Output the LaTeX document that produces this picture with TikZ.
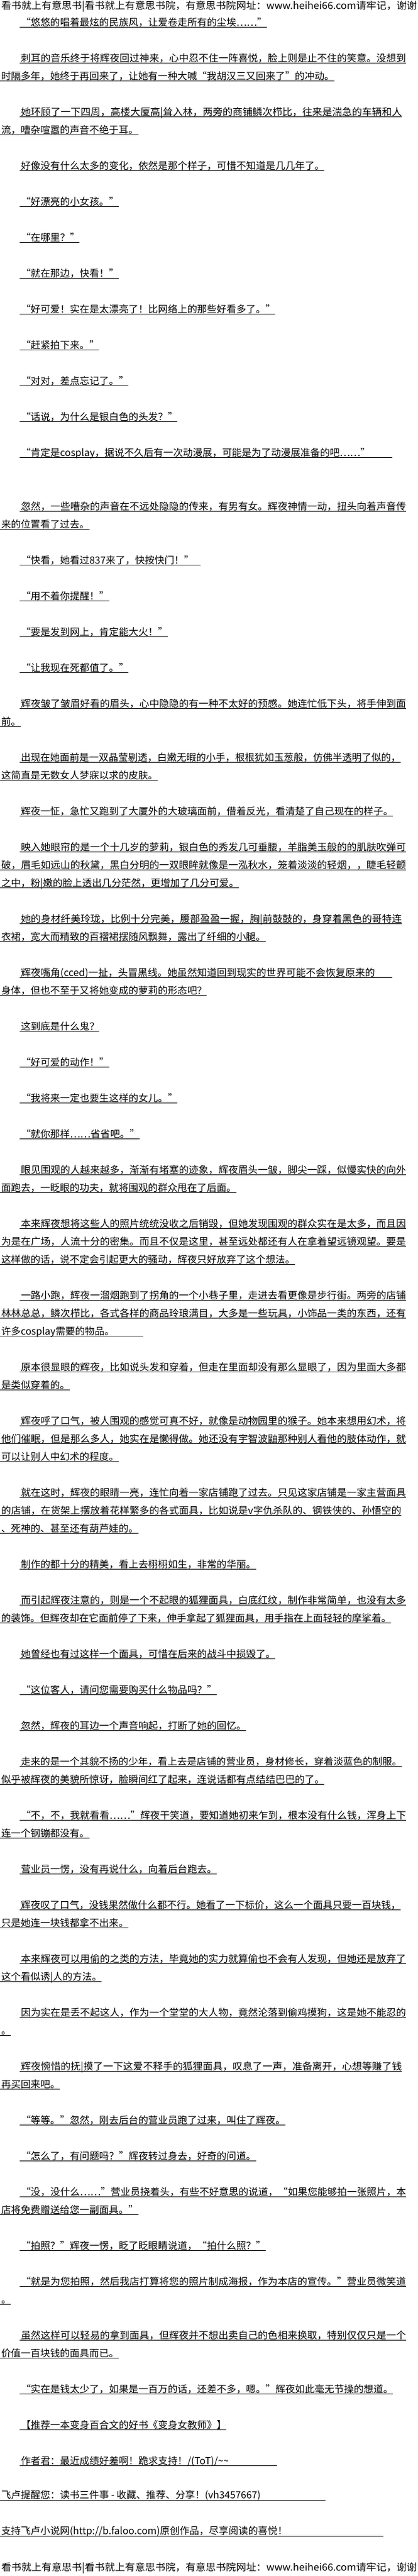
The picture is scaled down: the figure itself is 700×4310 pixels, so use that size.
\documentclass[tikz,border=0pt]{standalone}
\usepackage{fontspec}
\usepackage{graphicx}
\usetikzlibrary{calc}
\newfontfamily\cjk{Noto Sans CJK SC}
\tikzset{
  txt/.style={anchor=base west, inner sep=0pt, outer sep=0pt, text=black,
              font=\cjk\fontsize{16.4}{20}\selectfont},
  ul/.style={draw=black, line width=1pt}
}
% #1 optional underline end (absolute x), #2 name, #3 x, #4 line index, #5 text
\newcommand\TLine[5][]{%
  \node[txt] (#2) at (#3,{13+30*#4}) {#5};
  \ifx\relax#1\relax
    \draw[ul] ($(#2.base west)+(-2.5,2.5)$) -- ($(#2.base east)+(0,2.5)$);
  \else
    \draw[ul] ($(#2.base west)+(-2.5,2.5)$) -- ($(#2.base west)+({#1-#3},2.5)$);
  \fi}
% #1 optional underline end, #2 name, #3 x, #4 line index, #5 fitted end x, #6 text
\newcommand\TFit[6][]{%
  \node[txt] (#2) at (#3,{13+30*#4}) {\resizebox{\dimexpr#5pt-#3pt\relax}{\height}{#6}};
  \ifx\relax#1\relax
    \draw[ul] ($(#2.base west)+(-2.5,2.5)$) -- ($(#2.base east)+(0,2.5)$);
  \else
    \draw[ul] ($(#2.base west)+(-2.5,2.5)$) -- ($(#2.base west)+({#1-#3},2.5)$);
  \fi}
% no underline: #1 name, #2 x, #3 baseline y, #4 fitted end x, #5 text
\newcommand\TBare[5]{%
  \node[txt] (#1) at (#2,#3) {\resizebox{\dimexpr#4pt-#2pt\relax}{\height}{#5}};}

\begin{document}
\begin{tikzpicture}[x=1pt,y=-1pt]
\fill[white] (0,0) rectangle (700,4310);
\useasboundingbox (0,0) rectangle (700,4310);

\TBare{head}{2}{15}{698}{看书就上有意思书|看书就上有意思书院，有意思书院网址：www.heihei66.com请牢记，谢谢}

\TLine{a1}{35}{1}{“悠悠的唱着最炫的民族风，让爱卷走所有的尘埃……”}
\TFit{b1}{35}{3}{680}{刺耳的音乐终于将辉夜回过神来，心中忍不住一阵喜悦，脸上则是止不住的笑意。没想到}
\TLine{b2}{2}{4}{时隔多年，她终于再回来了，让她有一种大喊“我胡汉三又回来了”的冲动。}
\TFit{c1}{35}{6}{673}{她环顾了一下四周，高楼大厦高|耸入林，两旁的商铺鳞次栉比，往来是湍急的车辆和人}
\TLine{c2}{2}{7}{流，嘈杂喧嚣的声音不绝于耳。}
\TLine{d1}{35}{9}{好像没有什么太多的变化，依然是那个样子，可惜不知道是几几年了。}
\TLine{e1}{35}{11}{“好漂亮的小女孩。”}
\TLine{e2}{35}{13}{“在哪里？”}
\TLine{e3}{35}{15}{“就在那边，快看！”}
\TLine{e4}{35}{17}{“好可爱！实在是太漂亮了！比网络上的那些好看多了。”}
\TLine{e5}{35}{19}{“赶紧拍下来。”}
\TLine{e6}{35}{21}{“对对，差点忘记了。”}
\TLine{e7}{35}{23}{“话说，为什么是银白色的头发？”}
\TLine[657]{e8}{35}{25}{“肯定是cosplay，据说不久后有一次动漫展，可能是为了动漫展准备的吧……”}
\TFit{f1}{35}{28}{680}{忽然，一些嘈杂的声音在不远处隐隐的传来，有男有女。辉夜神情一动，扭头向着声音传}
\TLine{f2}{2}{29}{来的位置看了过去。}
\TLine[336]{g1}{35}{31}{“快看，她看过837来了，快按快门！”}
\TLine{g2}{35}{33}{“用不着你提醒！”}
\TLine{g3}{35}{35}{“要是发到网上，肯定能大火！”}
\TLine{g4}{35}{37}{“让我现在死都值了。”}
\TFit{h1}{35}{39}{680}{辉夜皱了皱眉好看的眉头，心中隐隐的有一种不太好的预感。她连忙低下头，将手伸到面}
\TLine{h2}{2}{40}{前。}
\TFit{i1}{35}{42}{671}{出现在她面前是一双晶莹剔透，白嫩无暇的小手，根根犹如玉葱般，仿佛半透明了似的，}
\TLine{i2}{2}{43}{这简直是无数女人梦寐以求的皮肤。}
\TLine{j1}{35}{45}{辉夜一怔，急忙又跑到了大厦外的大玻璃面前，借着反光，看清楚了自己现在的样子。}
\TFit{k1}{35}{47}{680}{映入她眼帘的是一个十几岁的萝莉，银白色的秀发几可垂腰，羊脂美玉般的的肌肤吹弹可}
\TFit{k2}{2}{48}{680}{破，眉毛如远山的秋黛，黑白分明的一双眼眸就像是一泓秋水，笼着淡淡的轻烟，，睫毛轻颤}
\TLine{k3}{2}{49}{之中，粉|嫩的脸上透出几分茫然，更增加了几分可爱。}
\TFit{l1}{35}{51}{673}{她的身材纤美玲珑，比例十分完美，腰部盈盈一握，胸|前鼓鼓的，身穿着黑色的哥特连}
\TLine{l2}{2}{52}{衣裙，宽大而精致的百褶裙摆随风飘舞，露出了纤细的小腿。}
\TFit[657]{m1}{35}{54}{628}{辉夜嘴角(cced)一扯，头冒黑线。她虽然知道回到现实的世界可能不会恢复原来的}
\TLine{m2}{2}{55}{身体，但也不至于又将她变成的萝莉的形态吧？}
\TLine{n1}{35}{57}{这到底是什么鬼？}
\TLine{n2}{35}{59}{“好可爱的动作！”}
\TLine{n3}{35}{61}{“我将来一定也要生这样的女儿。”}
\TLine{n4}{35}{63}{“就你那样……省省吧。”}
\TFit{o1}{35}{65}{680}{眼见围观的人越来越多，渐渐有堵塞的迹象，辉夜眉头一皱，脚尖一踩，似慢实快的向外}
\TLine{o2}{2}{66}{面跑去，一眨眼的功夫，就将围观的群众甩在了后面。}
\TFit{p1}{35}{68}{680}{本来辉夜想将这些人的照片统统没收之后销毁，但她发现围观的群众实在是太多，而且因}
\TFit{p2}{2}{69}{680}{为是在广场，人流十分的密集。而且不仅是这里，甚至远处都还有人在拿着望远镜观望。要是}
\TLine{p3}{2}{70}{这样做的话，说不定会引起更大的骚动，辉夜只好放弃了这个想法。}
\TFit{q1}{35}{72}{680}{一路小跑，辉夜一溜烟跑到了拐角的一个小巷子里，走进去看更像是步行街。两旁的店铺}
\TFit{q2}{2}{73}{680}{林林总总，鳞次栉比，各式各样的商品玲琅满目，大多是一些玩具，小饰品一类的东西，还有}
\TLine[240]{q3}{2}{74}{许多cosplay需要的物品。}
\TFit{r1}{35}{76}{680}{原本很显眼的辉夜，比如说头发和穿着，但走在里面却没有那么显眼了，因为里面大多都}
\TLine{r2}{2}{77}{是类似穿着的。}
\TFit{s1}{35}{79}{680}{辉夜呼了口气，被人围观的感觉可真不好，就像是动物园里的猴子。她本来想用幻术，将}
\TFit{s2}{2}{80}{680}{他们催眠，但是那么多人，她实在是懒得做。她还没有宇智波鼬那种别人看他的肢体动作，就}
\TLine{s3}{2}{81}{可以让别人中幻术的程度。}
\TFit{t1}{35}{83}{680}{就在这时，辉夜的眼睛一亮，连忙向着一家店铺跑了过去。只见这家店铺是一家主营面具}
\TFit{t2}{2}{84}{672}{的店铺，在货架上摆放着花样繁多的各式面具，比如说是v字仇杀队的、钢铁侠的、孙悟空的}
\TLine{t3}{2}{85}{、死神的、甚至还有葫芦娃的。}
\TLine{u1}{35}{87}{制作的都十分的精美，看上去栩栩如生，非常的华丽。}
\TFit{v1}{35}{89}{680}{而引起辉夜注意的，则是一个不起眼的狐狸面具，白底红纹，制作非常简单，也没有太多}
\TFit{v2}{2}{90}{655}{的装饰。但辉夜却在它面前停了下来，伸手拿起了狐狸面具，用手指在上面轻轻的摩挲着。}
\TLine{w1}{35}{92}{她曾经也有过这样一个面具，可惜在后来的战斗中损毁了。}
\TLine{w2}{35}{94}{“这位客人，请问您需要购买什么物品吗？”}
\TLine{w3}{35}{96}{忽然，辉夜的耳边一个声音响起，打断了她的回忆。}
\TFit{x1}{35}{98}{673}{走来的是一个其貌不扬的少年，看上去是店铺的营业员，身材修长，穿着淡蓝色的制服。}
\TLine{x2}{2}{99}{似乎被辉夜的美貌所惊讶，脸瞬间红了起来，连说话都有点结结巴巴的了。}
\TFit{y1}{35}{101}{680}{“不，不，我就看看……”辉夜干笑道，要知道她初来乍到，根本没有什么钱，浑身上下}
\TLine{y2}{2}{102}{连一个钢镚都没有。}
\TLine{y3}{35}{104}{营业员一愣，没有再说什么，向着后台跑去。}
\TFit{z1}{35}{106}{671}{辉夜叹了口气，没钱果然做什么都不行。她看了一下标价，这么一个面具只要一百块钱，}
\TLine{z2}{2}{107}{只是她连一块钱都拿不出来。}
\TFit{aa1}{35}{109}{680}{本来辉夜可以用偷的之类的方法，毕竟她的实力就算偷也不会有人发现，但她还是放弃了}
\TLine{aa2}{2}{110}{这个看似诱|人的方法。}
\TFit{ab1}{35}{112}{680}{因为实在是丢不起这人，作为一个堂堂的大人物，竟然沦落到偷鸡摸狗，这是她不能忍的}
\TLine{ab2}{2}{113}{。}
\TFit{ac1}{35}{115}{673}{辉夜惋惜的抚|摸了一下这爱不释手的狐狸面具，叹息了一声，准备离开，心想等赚了钱}
\TLine{ac2}{2}{116}{再买回来吧。}
\TLine{ad1}{35}{118}{“等等。”忽然，刚去后台的营业员跑了过来，叫住了辉夜。}
\TLine{ad2}{35}{120}{“怎么了，有问题吗？”辉夜转过身去，好奇的问道。}
\TFit{ae1}{35}{122}{680}{“没，没什么……”营业员挠着头，有些不好意思的说道，“如果您能够拍一张照片，本}
\TLine{ae2}{2}{123}{店将免费赠送给您一副面具。”}
\TLine{af1}{35}{125}{“拍照？”辉夜一愣，眨了眨眼睛说道，“拍什么照？”}
\TFit{ag1}{35}{127}{680}{“就是为您拍照，然后我店打算将您的照片制成海报，作为本店的宣传。”营业员微笑道}
\TLine{ag2}{2}{128}{。}
\TFit{ah1}{35}{130}{680}{虽然这样可以轻易的拿到面具，但辉夜并不想出卖自己的色相来换取，特别仅仅只是一个}
\TLine{ah2}{2}{131}{价值一百块钱的面具而已。}
\TLine{ai1}{35}{133}{“实在是钱太少了，如果是一百万的话，还差不多，嗯。”辉夜如此毫无节操的想道。}
\TLine{ai2}{35}{135}{【推荐一本变身百合文的好书《变身女教师》】}
\TLine[464]{ai3}{35}{137}{作者君：最近成绩好差啊！跪求支持！/(ToT)/\textasciitilde\textasciitilde}
\TLine[545]{aj1}{2}{138.93}{飞卢提醒您：读书三件事 - 收藏、推荐、分享！(vh3457667)}
\TLine[642]{aj2}{2}{140.93}{支持飞卢小说网(http://b.faloo.com)原创作品，尽享阅读的喜悦！}

\TBare{foot}{2}{4301}{698}{看书就上有意思书|看书就上有意思书院，有意思书院网址：www.heihei66.com请牢记，谢谢}
\end{tikzpicture}
\end{document}
